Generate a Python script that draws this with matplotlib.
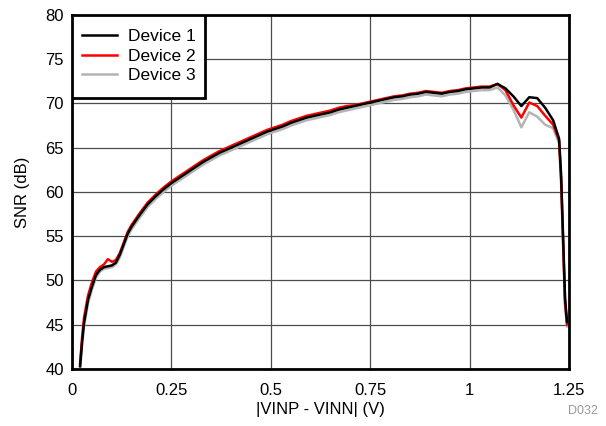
import numpy as np
import matplotlib
matplotlib.use('Agg')
import matplotlib.pyplot as plt
import matplotlib.patches as mpatches

plt.rcParams['font.family'] = ['Liberation Sans', 'DejaVu Sans']

# input difference |VINP - VINN| (V)
vdiff = [0.02, 0.025, 0.03, 0.04, 0.05, 0.06, 0.07, 0.08, 0.09, 0.10,
         0.11, 0.12, 0.13, 0.14, 0.15, 0.17, 0.19, 0.21, 0.23, 0.25,
         0.27, 0.29, 0.31, 0.33, 0.35, 0.37, 0.39, 0.41, 0.43, 0.45,
         0.47, 0.49, 0.51, 0.53, 0.55, 0.57, 0.59, 0.61, 0.63, 0.65,
         0.67, 0.69, 0.71, 0.73, 0.75, 0.77, 0.79, 0.81, 0.83, 0.85,
         0.87, 0.89, 0.91, 0.93, 0.95, 0.97, 0.99, 1.01, 1.03, 1.05,
         1.07, 1.09, 1.11, 1.13, 1.15, 1.17, 1.19, 1.21, 1.225, 1.23,
         1.235, 1.24, 1.245]

snr_dev1 = [40.3, 43.0, 45.2, 47.8, 49.3, 50.6, 51.2, 51.5, 51.6, 51.7,
            52.0, 52.9, 54.1, 55.3, 56.1, 57.4, 58.6, 59.5, 60.3, 61.0,
            61.6, 62.2, 62.8, 63.4, 63.9, 64.4, 64.8, 65.2, 65.6, 66.0,
            66.4, 66.8, 67.1, 67.4, 67.8, 68.1, 68.4, 68.6, 68.8, 69.0,
            69.3, 69.5, 69.7, 69.9, 70.1, 70.3, 70.5, 70.7, 70.8, 71.0,
            71.1, 71.3, 71.2, 71.1, 71.3, 71.4, 71.6, 71.7, 71.8, 71.8,
            72.2, 71.7, 70.8, 69.7, 70.7, 70.6, 69.5, 68.1, 66.0, 62.0,
            55.0, 48.0, 45.3]

snr_dev2 = [40.6, 43.5, 45.8, 48.3, 49.8, 51.0, 51.5, 51.8, 52.4, 52.1,
            52.3, 53.1, 54.3, 55.5, 56.3, 57.6, 58.8, 59.7, 60.5, 61.2,
            61.8, 62.4, 63.0, 63.6, 64.1, 64.6, 65.0, 65.4, 65.8, 66.2,
            66.6, 67.0, 67.3, 67.6, 68.0, 68.3, 68.6, 68.8, 69.0, 69.2,
            69.5, 69.7, 69.8, 70.0, 70.2, 70.4, 70.6, 70.8, 70.9, 71.1,
            71.2, 71.4, 71.3, 71.2, 71.4, 71.5, 71.7, 71.8, 71.9, 71.9,
            72.2, 71.5, 69.8, 68.4, 70.1, 69.7, 68.6, 67.6, 65.8, 61.5,
            54.5, 47.5, 45.0]

snr_dev3 = [39.8, 42.6, 44.8, 47.4, 49.0, 50.3, 51.0, 51.3, 51.4, 51.5,
            51.8, 52.6, 53.8, 55.0, 55.8, 57.1, 58.3, 59.2, 60.0, 60.7,
            61.3, 61.9, 62.5, 63.1, 63.6, 64.1, 64.5, 64.9, 65.3, 65.7,
            66.1, 66.5, 66.8, 67.1, 67.5, 67.8, 68.1, 68.3, 68.5, 68.7,
            69.0, 69.2, 69.4, 69.6, 69.8, 70.0, 70.2, 70.4, 70.5, 70.7,
            70.8, 71.0, 70.9, 70.8, 71.0, 71.1, 71.3, 71.4, 71.5, 71.5,
            71.8, 70.9, 69.3, 67.3, 69.0, 68.5, 67.6, 67.2, 65.5, 61.0,
            54.0, 47.0, 44.8]

series = [('Device 1', snr_dev1, '#000000'),
          ('Device 2', snr_dev2, '#ff0000'),
          ('Device 3', snr_dev3, '#b4b4b4')]

fig = plt.figure(figsize=(6.06, 4.26), dpi=100)
ax = fig.add_axes([0.119, 0.134, 0.820, 0.831])

# draw gray first so red and black sit on top, keep legend order
handles = {}
for name, vals, col in reversed(series):
    ln, = ax.plot(vdiff, vals, color=col, lw=1.8, label=name)
    handles[name] = ln

ax.set_xlim(0, 1.25)
ax.set_ylim(40, 80)
ax.set_xticks([0, 0.25, 0.5, 0.75, 1, 1.25])
ax.set_xticklabels(['0', '0.25', '0.5', '0.75', '1', '1.25'])
ax.set_yticks(np.arange(40, 81, 5))
ax.grid(True, color='#4d4d4d', lw=0.9)
ax.set_axisbelow(True)
for sp in ax.spines.values():
    sp.set_linewidth(2.0)
ax.tick_params(length=0, labelsize=12)
ax.tick_params(axis='x', pad=10)
ax.tick_params(axis='y', pad=6)

ax.set_xlabel('|VINP - VINN| (V)', fontsize=12, labelpad=3)
ax.set_ylabel('SNR (dB)', fontsize=12, labelpad=11)

# legend box drawn by hand so it can be taller than matplotlib's padding allows
box = mpatches.Rectangle((0, 0.766), 0.268, 0.234, transform=ax.transAxes,
                         facecolor='white', edgecolor='black', lw=2.0, zorder=4)
ax.add_patch(box)
leg = ax.legend([handles[n] for n, _, _ in series], [n for n, _, _ in series],
                loc='upper left', bbox_to_anchor=(-0.009, 1.0),
                borderaxespad=0, frameon=False, fontsize=12.5,
                handlelength=2.0, handletextpad=0.65, labelspacing=0.25,
                borderpad=0.83)
leg.set_zorder(5)

fig.text(0.987, 0.022, 'D032', fontsize=9, color='#999999', ha='right', va='bottom')

fig.savefig('out.png', dpi=100)
